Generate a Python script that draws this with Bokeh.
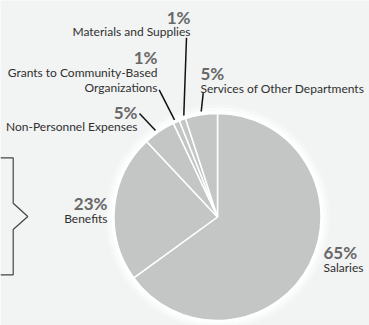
import math
from bokeh.plotting import figure
from bokeh.models import Range1d, ColumnDataSource
from bokeh.core.properties import value
from bokeh.embed import file_html
from bokeh.resources import INLINE

# ---- data ----
categories = ["Salaries", "Benefits", "Non-Personnel Expenses",
              "Grants to Community-Based Organizations",
              "Materials and Supplies", "Services of Other Departments"]
shares = [65, 23, 5, 1, 1, 5]
label_lines = [["Salaries"], ["Benefits"], ["Non-Personnel Expenses"],
               ["Grants to Community-Based", "Organizations"],
               ["Materials and Supplies"], ["Services of Other Departments"]]

# ---- layout (reference pixel coordinates) ----
W, H = 369, 325
cx, cy, R = 217, 216.5, 103.5

# label anchors: x, percent baseline, first label baseline, align
label_pos = [
    (323, 252, 267, "left"),
    (107, 203, 218, "right"),
    (137, 112, 126, "right"),
    (157, 57, 72, "right"),
    (190, 17, 31, "right"),
    (200, 73, 87.5, "left"),
]
leaders = [
    None, None,
    ((139, 113), (155, 130)),
    ((158.7, 89.3), (174, 119.3)),
    ((186, 37.3), (183.3, 115)),
    ((202.7, 92.7), (200.7, 111)),
]
brace_x = [0, 12.7, 12.7, 27.3, 12.7, 12.7, 0]
brace_y = [157.3, 157.3, 202.7, 216, 229, 274.3, 274.3]

BG = "#f2f3f3"
PIE = "#c4c5c5"
PCT_C = "#686868"
LBL_C = "#303030"


def Y(y):
    return H - y


p = figure(width=W, height=H, output_backend="svg", toolbar_location=None,
           x_range=Range1d(0, W), y_range=Range1d(0, H), min_border=0)
p.axis.visible = False
p.grid.visible = False
p.outline_line_color = None
p.background_fill_color = BG
p.border_fill_color = BG

# soft white halo around the pie
for dr, a in [(9, 0.25), (6, 0.45), (3, 0.75)]:
    p.circle(x=[cx], y=[Y(cy)], radius=R + dr, fill_color="white",
             fill_alpha=a, line_color=None)

total = sum(shares)
starts, ends = [], []
cum = 0
for v in shares:
    starts.append(math.pi / 2 - 2 * math.pi * cum / total)
    cum += v
    ends.append(math.pi / 2 - 2 * math.pi * cum / total)

src = ColumnDataSource(dict(cat=categories, share=shares, start=starts, end=ends))
p.wedge(x=cx, y=Y(cy), radius=R, start_angle="start", end_angle="end",
        direction="clock", source=src, fill_color=PIE,
        line_color="white", line_width=1.5)

for i, cat in enumerate(categories):
    x, pb, lb, al = label_pos[i]
    p.text(x=[x], y=[Y(pb)], text=[f"{shares[i]}%"], text_align=al,
           text_baseline="alphabetic", text_font=value("Lato"),
           text_font_style="bold", text_font_size="17px", text_color=PCT_C)
    for j, line in enumerate(label_lines[i]):
        p.text(x=[x], y=[Y(lb + 15 * j)], text=[line], text_align=al,
               text_baseline="alphabetic", text_font=value("Lato"),
               text_font_size="12px", text_color=LBL_C)
    if leaders[i]:
        (x0, y0), (x1, y1) = leaders[i]
        p.line(x=[x0, x1], y=[Y(y0), Y(y1)], line_color="#111111", line_width=1.5)

p.line(x=brace_x, y=[Y(v) for v in brace_y], line_color="#444444", line_width=1.2)

open("out.html", "w").write(file_html(p, INLINE))
